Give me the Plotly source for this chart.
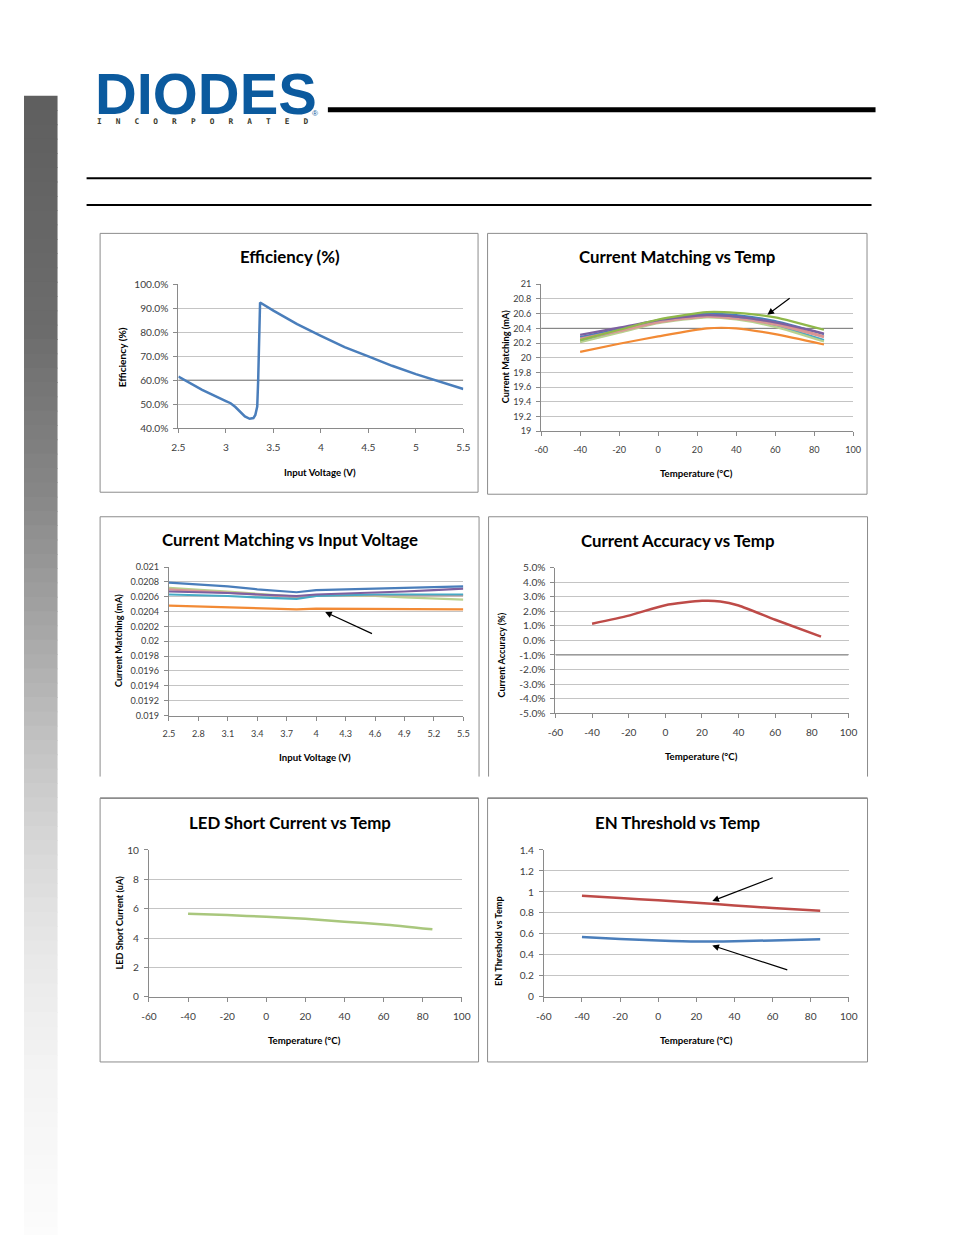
import plotly.graph_objects as go

W, H = 954, 1235
# The captured picture maps figure pixels to picture pixels as  pic = A + S * fig.
# Reference pixel positions are converted back through this mapping.
AX, SX = 16.5, 0.981
AY, SY = 14.4, 0.989
FS = 1 / 0.985  # font compensation

# ---------------- data ----------------
# Chart 1: Efficiency (%) vs Input Voltage (V)
eff_vin = [2.5, 2.75, 3.0, 3.05, 3.1, 3.15, 3.2, 3.25, 3.29, 3.31, 3.33, 3.34, 3.35, 3.36,
           3.5, 3.75, 4.0, 4.25, 4.5, 4.75, 5.0, 5.25, 5.5]
eff_pct = [61.5, 56.0, 51.3, 50.4, 48.8, 46.8, 44.9, 43.9, 44.2, 45.5, 49.0, 60.0, 80.0, 92.4,
           89.0, 83.4, 78.5, 73.8, 69.9, 66.0, 62.5, 59.3, 56.3]

# Chart 2: Current Matching (mA) vs Temperature (°C), one series per channel
cm_temp = [-40, -20, 0, 25, 40, 60, 85]
cm_temp_series = {
    "ch_blue":   [20.28, 20.39, 20.51, 20.60, 20.58, 20.50, 20.32],
    "ch_red":    [20.26, 20.37, 20.49, 20.57, 20.55, 20.47, 20.29],
    "ch_aqua":   [20.22, 20.35, 20.48, 20.56, 20.54, 20.44, 20.24],
    "ch_ltgrn":  [20.21, 20.34, 20.47, 20.55, 20.52, 20.42, 20.22],
    "ch_pink":   [20.25, 20.36, 20.48, 20.56, 20.53, 20.45, 20.28],
    "ch_purple": [20.31, 20.41, 20.51, 20.58, 20.56, 20.48, 20.33],
    "ch_green":  [20.24, 20.38, 20.52, 20.62, 20.61, 20.55, 20.38],
    "ch_orange": [20.08, 20.19, 20.29, 20.40, 20.40, 20.32, 20.18],
}

# Chart 3: Current Matching (mA) vs Input Voltage (V)
cmv_vin = [2.5, 2.8, 3.1, 3.4, 3.8, 4.0, 4.3, 4.6, 4.9, 5.2, 5.5]
cmv_series = {
    "ch_ltgrn":  [0.02072, 0.02070, 0.02067, 0.02064, 0.02060, 0.02062, 0.02062, 0.02061, 0.02059, 0.02057, 0.02056],
    "ch_pink":   [0.02070, 0.02068, 0.02066, 0.02063, 0.02059, 0.02061, 0.02062, 0.02062, 0.02062, 0.02062, 0.02062],
    "ch_aqua":   [0.02063, 0.02062, 0.02061, 0.02059, 0.02057, 0.02061, 0.02062, 0.02063, 0.02063, 0.02063, 0.02063],
    "ch_purple": [0.02067, 0.02066, 0.02065, 0.02063, 0.02061, 0.02063, 0.02064, 0.02065, 0.02067, 0.02069, 0.02071],
    "ch_blue":   [0.02079, 0.02077, 0.02074, 0.02070, 0.02066, 0.02069, 0.02070, 0.02071, 0.02072, 0.02073, 0.02074],
    "ch_orange": [0.02048, 0.02047, 0.02046, 0.02045, 0.02043, 0.02044, 0.02044, 0.02044, 0.02043, 0.02043, 0.02043],
}

# Chart 4: Current Accuracy (%) vs Temperature
acc_temp = [-40, -20, 0, 20, 30, 40, 60, 85]
acc_pct = [1.15, 1.70, 2.42, 2.72, 2.68, 2.40, 1.42, 0.26]

# Chart 5: LED Short Current (uA) vs Temperature
ls_temp = [-40, -20, 0, 20, 40, 60, 85]
ls_ua = [5.66, 5.57, 5.45, 5.32, 5.12, 4.93, 4.60]

# Chart 6: EN Threshold vs Temperature
en_temp = [-40, -20, 0, 20, 40, 60, 85]
en_high = [0.964, 0.942, 0.920, 0.897, 0.872, 0.846, 0.821]
en_low = [0.570, 0.552, 0.538, 0.528, 0.531, 0.538, 0.550]

temp_ticks = [-60, -40, -20, 0, 20, 40, 60, 80, 100]

# ---------------- styles ----------------
COLORS = {
    "ch_blue": "#4a7ebb", "ch_red": "#d98f8d", "ch_aqua": "#46aac5", "ch_ltgrn": "#b9d18f",
    "ch_pink": "#d99694", "ch_purple": "#7d60a0", "ch_green": "#8fb84a", "ch_orange": "#f28a35",
}
BLUE = "#4a7ebb"
RED = "#be4b48"
LGREEN = "#a9c77d"
GRID = "#c4c4c4"
AXIS = "#8a8a8a"
DARK = "#7a7a7a"
TXT = "#404040"
FRAME = "#8c8c8c"
FONT = "Lato"


def fx(px):
    return ((px - AX) / SX) / W


def fy(py):
    return 1 - ((py - AY) / SY) / H


def fmt_g(v):
    return f"{round(v, 6):g}"


charts = [
    dict(xd=(178.7, 463.3), yd=(284.3, 428.0), xr=[2.5, 5.5], xt=[2.5, 3, 3.5, 4, 4.5, 5, 5.5],
         yr=[40, 100], yt=[40, 50, 60, 70, 80, 90, 100], yf=lambda v: f"{v:.1f}%", tf=10, dark=60),
    dict(xd=(541.0, 852.7), yd=(284.3, 431.0), xr=[-60, 100], xt=temp_ticks,
         yr=[19, 21], yt=[19 + 0.2 * i for i in range(11)], yf=fmt_g, tf=9, dark=20.4),
    dict(xd=(169.3, 463.3), yd=(566.7, 715.0), xr=[2.5, 5.5], xt=[2.5 + 0.3 * i for i in range(11)],
         yr=[0.019, 0.021], yt=[0.019 + 0.0002 * i for i in range(11)], yf=fmt_g, tf=9, dark=None),
    dict(xd=(555.3, 848.0), yd=(567.3, 712.7), xr=[-60, 100], xt=temp_ticks,
         yr=[-5, 5], yt=list(range(-5, 6)), yf=lambda v: f"{v:.1f}%", tf=10, dark=-1),
    dict(xd=(149.3, 461.7), yd=(849.3, 996.0), xr=[-60, 100], xt=temp_ticks,
         yr=[0, 10], yt=[0, 2, 4, 6, 8, 10], yf=fmt_g, tf=10, dark=None),
    dict(xd=(543.7, 848.3), yd=(849.3, 996.0), xr=[-60, 100], xt=temp_ticks,
         yr=[0, 1.4], yt=[0.2 * i for i in range(8)], yf=fmt_g, tf=10, dark=None),
]

fig = go.Figure()


def add_line(n, xs, ys, color, width=2.5, shape="spline"):
    sfx = "" if n == 1 else str(n)
    line = dict(color=color, width=width, shape=shape)
    if shape == "spline":
        line["smoothing"] = 0.6
    fig.add_trace(go.Scatter(x=xs, y=ys, mode="lines", line=line,
                             xaxis="x" + sfx, yaxis="y" + sfx, showlegend=False, hoverinfo="skip"))


# darker reference gridlines (drawn first, under the data)
for i, c in enumerate(charts, start=1):
    if c["dark"] is not None:
        add_line(i, c["xr"], [c["dark"], c["dark"]], DARK, 1, "linear")

add_line(1, eff_vin, eff_pct, BLUE, 2.5, "linear")
for k, vals in cm_temp_series.items():
    add_line(2, cm_temp, vals, COLORS[k], 2.2)
for k, vals in cmv_series.items():
    add_line(3, cmv_vin, vals, COLORS[k], 2.2, "linear")
add_line(4, acc_temp, acc_pct, RED, 2.5)
add_line(5, ls_temp, ls_ua, LGREEN, 2.5)
add_line(6, en_temp, en_high, RED, 2.5)
add_line(6, en_temp, en_low, BLUE, 2.5)

layout = dict(width=W, height=H, margin=dict(l=0, r=0, t=0, b=0), paper_bgcolor="white",
              plot_bgcolor="rgba(0,0,0,0)", showlegend=False, font=dict(family=FONT, color=TXT))
shapes = []
for i, c in enumerate(charts, start=1):
    sfx = "" if i == 1 else str(i)
    layout["xaxis" + sfx] = dict(
        domain=[fx(c["xd"][0]), fx(c["xd"][1])], range=c["xr"], anchor="y" + sfx,
        tickmode="array", tickvals=c["xt"], ticktext=[fmt_g(v) for v in c["xt"]],
        showgrid=False, zeroline=False, showline=True, linecolor=AXIS, linewidth=1,
        ticks="outside", ticklen=4, tickcolor=AXIS, ticklabelstandoff=6,
        tickfont=dict(size=c["tf"] * FS, color=TXT, family=FONT), fixedrange=True)
    layout["yaxis" + sfx] = dict(
        domain=[fy(c["yd"][1]), fy(c["yd"][0])], range=c["yr"], anchor="x" + sfx,
        tickmode="array", tickvals=c["yt"], ticktext=[c["yf"](v) for v in c["yt"]],
        showgrid=True, gridcolor=GRID, gridwidth=1, zeroline=False, showline=True, linecolor=AXIS,
        linewidth=1, ticks="outside", ticklen=4, tickcolor=AXIS, ticklabelstandoff=3,
        tickfont=dict(size=c["tf"] * FS, color=TXT, family=FONT), fixedrange=True)

# side gradient bar
grad = [(0.0, 0x5f), (0.2, 0x6c), (0.35, 0x88), (0.45, 0xa2), (0.55, 0xbe), (0.65, 0xd6),
        (0.75, 0xe8), (0.85, 0xf3), (1.0, 0xfc)]
top, bot = 96, 1240
n_strips = 80
for s in range(n_strips):
    t = s / (n_strips - 1)
    g = grad[-1][1]
    for j in range(len(grad) - 1):
        if grad[j][0] <= t <= grad[j + 1][0]:
            a = (t - grad[j][0]) / (grad[j + 1][0] - grad[j][0])
            g = int(round(grad[j][1] + a * (grad[j + 1][1] - grad[j][1])))
            break
    y0 = top + (bot - top) * s / n_strips
    y1 = top + (bot - top) * (s + 1) / n_strips + 0.8
    shapes.append(dict(type="rect", xref="paper", yref="paper", x0=fx(24.5), x1=fx(58),
                       y0=fy(y1), y1=fy(y0), line=dict(width=0), fillcolor=f"rgb({g},{g},{g})", layer="below"))

# header rules
shapes.append(dict(type="line", xref="paper", yref="paper", x0=fx(328), x1=fx(875), y0=fy(110), y1=fy(110),
                   line=dict(color="black", width=5)))
for yy in (178.5, 205.2):
    shapes.append(dict(type="line", xref="paper", yref="paper", x0=fx(87), x1=fx(871), y0=fy(yy), y1=fy(yy),
                       line=dict(color="black", width=2)))


def seg(x0, y0, x1, y1, width=1):
    shapes.append(dict(type="line", xref="paper", yref="paper", x0=fx(x0), x1=fx(x1), y0=fy(y0), y1=fy(y1),
                       line=dict(color=FRAME, width=width), layer="below"))


# chart frames: (left, right, top, bottom, draw_bottom, top_width)
frames = [(100.5, 478.0, 233.5, 492.0, True, 1), (487.5, 866.5, 233.5, 494.0, True, 1),
          (100.5, 479.0, 516.5, 776.0, False, 1), (488.5, 867.0, 516.5, 776.0, False, 1),
          (100.5, 478.5, 797.5, 1061.0, True, 1.6), (487.5, 867.0, 797.5, 1061.0, True, 1.6)]
for (x0, x1, y0, y1, has_bottom, tw) in frames:
    seg(x0, y0, x1, y0, tw)
    seg(x0, y0, x0, y1)
    seg(x1, y0, x1, y1)
    if has_bottom:
        seg(x0, y1, x1, y1)

layout["shapes"] = shapes

ann = []


def text(x, y, s, size, color=TXT, bold=False, angle=0, family=FONT, xanchor="center"):
    ann.append(dict(x=fx(x), y=fy(y), xref="paper", yref="paper", text=f"<b>{s}</b>" if bold else s,
                    showarrow=False, textangle=angle, xanchor=xanchor, yanchor="middle",
                    font=dict(size=size * FS, color=color, family=family)))


# logo
text(93, 94, "DIODES", 57, color="#0b5a9e", bold=True, family="Liberation Sans", xanchor="left")
NB = "\u00a0"
incorporated = (NB * 3).join("INCORPORATED")
text(95, 121.7, incorporated, 7.7, color="#3a3a2c", bold=True, family="DejaVu Sans Mono", xanchor="left")
text(315, 113.5, "®", 8, color="#0b5a9e", family="Liberation Sans")

# chart titles
titles = [(290, 257, "Efficiency (%)"), (677, 257, "Current Matching vs Temp"),
          (290, 539, "Current Matching vs Input Voltage"), (677, 540, "Current Accuracy vs Temp"),
          (290, 822, "LED Short Current vs Temp"), (677, 822, "EN Threshold vs Temp")]
for x, y, s in titles:
    text(x, y, s, 16.6, color="black", bold=True)

# axis titles
xt = [(320, 472, "Input Voltage (V)"), (696, 473, "Temperature (°C)"), (315, 756.5, "Input Voltage (V)"),
      (701, 755.5, "Temperature (°C)"), (305, 1039, "Temperature (°C)"), (696, 1039, "Temperature (°C)")]
for x, y, s in xt:
    text(x, y, s, 9.5, color="black", bold=True)
yt = [(122.7, 357, "Efficiency (%)"), (505, 357, "Current Matching (mA)"), (119, 640, "Current Matching (mA)"),
      (501, 655, "Current Accuracy (%)"), (120, 922, "LED Short Current (uA)"), (499, 941, "EN Threshold vs Temp")]
for x, y, s in yt:
    text(x, y, s, 10 if s == "Efficiency (%)" else 9, color="black", bold=True, angle=-90)

# arrows (head -> tail offsets, converted to figure px)
arrows = [((767, 314.7), (790.3, 297.3)), ((325.3, 611.7), (372.7, 633.7)),
          ((712, 900.3), (772.7, 876.7)), ((712, 944.7), (787, 969.3))]
for (hx, hy), (tx, ty) in arrows:
    ann.append(dict(x=fx(hx), y=fy(hy), xref="paper", yref="paper", ax=(tx - hx) / SX, ay=(ty - hy) / SY,
                    axref="pixel", ayref="pixel", text="", showarrow=True, arrowhead=2, arrowsize=1.1,
                    arrowwidth=1.2, arrowcolor="black", standoff=0))

layout["annotations"] = ann
fig.update_layout(**layout)
fig.write_html("out.html")
